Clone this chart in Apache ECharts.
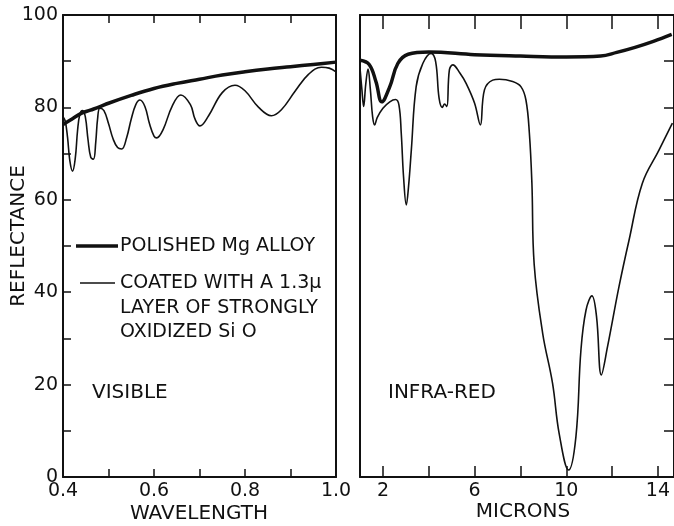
<!DOCTYPE html>
<html>
<head>
<meta charset="utf-8">
<script src="https://cdn.jsdelivr.net/npm/echarts@6/dist/echarts.min.js"></script>
<style>
  html, body { margin: 0; padding: 0; background: #fff; }
  #chart { width: 674px; height: 526px; }
</style>
</head>
<body>
<div id="chart"></div>
<script>
// visible range: wavelength (microns) vs reflectance (%)
const visPolished = [
    [0.40, 76.3], [0.42, 77.5], [0.44, 78.7], [0.46, 79.4], [0.48, 80.1], [0.50, 80.9],
    [0.55, 82.6], [0.60, 84.1], [0.65, 85.2], [0.70, 86.1], [0.75, 87.0], [0.80, 87.7],
    [0.85, 88.3], [0.90, 88.8], [0.95, 89.3], [1.00, 89.8],
];
const visCoated = [
    [0.400, 78.0], [0.405, 77.0], [0.410, 73.5], [0.415, 68.5], [0.421, 66.2], [0.427, 69.0],
    [0.432, 75.0], [0.437, 78.5], [0.443, 79.3], [0.449, 78.0], [0.455, 73.0], [0.461, 69.2],
    [0.467, 68.8], [0.472, 72.5], [0.476, 77.5], [0.481, 79.8], [0.490, 79.3], [0.500, 76.5],
    [0.510, 73.2], [0.520, 71.3], [0.529, 71.0], [0.540, 73.5], [0.550, 77.5], [0.560, 80.6],
    [0.569, 81.6], [0.580, 80.2], [0.590, 76.5], [0.600, 73.8], [0.606, 73.4], [0.620, 75.2],
    [0.640, 80.3], [0.659, 82.7], [0.680, 80.6], [0.690, 77.5], [0.701, 76.0], [0.720, 78.2],
    [0.750, 83.2], [0.778, 84.8], [0.800, 83.6], [0.830, 80.0], [0.858, 78.2], [0.880, 79.5],
    [0.910, 83.5], [0.940, 87.2], [0.968, 88.7], [0.985, 88.5], [1.000, 87.7],
];

// infra-red range
const irPolished = [
    [1.0, 90.2], [1.4, 89.3], [1.7, 85.5], [1.95, 81.2], [2.3, 84.5], [2.65, 89.5],
    [3.1, 91.5], [4.0, 92.0], [6.0, 91.4], [8.0, 91.1], [10.0, 90.9], [11.5, 91.1],
    [12.2, 91.9], [13.0, 93.0], [13.8, 94.3], [14.6, 95.8],
];
const irCoated = [
    [1.0, 88.5], [1.08, 84.0], [1.16, 80.2], [1.25, 85.0], [1.35, 88.3], [1.45, 84.0],
    [1.55, 78.0], [1.64, 76.2], [1.75, 77.8], [2.0, 79.8], [2.3, 81.2], [2.55, 81.7],
    [2.7, 80.5], [2.8, 74.4], [2.9, 65.0], [3.02, 58.9], [3.12, 63.0], [3.24, 70.8],
    [3.45, 84.5], [3.74, 89.5], [4.1, 91.7], [4.3, 89.9], [4.45, 82.0], [4.59, 80.0],
    [4.69, 80.7], [4.79, 80.2], [4.9, 88.1], [5.05, 89.2], [5.35, 87.5], [5.63, 85.2],
    [6.0, 80.9], [6.25, 76.2], [6.43, 83.8], [6.79, 85.9], [7.08, 86.1], [7.66, 85.6],
    [8.02, 84.5], [8.24, 81.6], [8.39, 74.4], [8.5, 63.6], [8.6, 46.0], [8.97, 31.1],
    [9.4, 20.3], [9.69, 9.4], [10.1, 1.5], [10.42, 8.7], [10.64, 27.5], [10.86, 36.1],
    [11.12, 39.2], [11.32, 34.7], [11.53, 22.1], [11.8, 28.2], [12.3, 41.2], [12.74, 51.3],
    [13.32, 63.6], [14.05, 70.8], [14.63, 76.6],
];

// ticks and labels
const visLabels = [0.4, 0.6, 0.8, 1.0];
const visTicks = [0.5, 0.6, 0.7, 0.8, 0.9];
const irLabels = [2, 6, 10, 14];
const irTicks = [2, 4, 6, 8, 10, 12, 14];
const yLabels = [0, 20, 40, 60, 80, 100];
const yTicks = [10, 20, 30, 40, 50, 60, 70, 80, 90];

const INK = '#111';
const FONT = 'DejaVu Sans';

const chart = echarts.init(document.getElementById('chart'));

function frameAxis(extra) {
    return Object.assign({
        axisLine: { show: true, onZero: false, lineStyle: { color: INK, width: 2 } },
        axisTick: { show: false },
        axisLabel: { show: false },
        splitLine: { show: false },
    }, extra);
}

function thick(data, xi) {
    return {
        type: 'line', xAxisIndex: xi, yAxisIndex: xi * 2, data: data,
        showSymbol: false, smooth: 0.4, z: 3,
        lineStyle: { color: INK, width: 3.5 },
    };
}
function thin(data, xi) {
    return {
        type: 'line', xAxisIndex: xi, yAxisIndex: xi * 2, data: data,
        showSymbol: false, smooth: 0.4, z: 2,
        lineStyle: { color: INK, width: 1.6 },
    };
}

const labelStyle = { color: INK, fontFamily: FONT, fontSize: 19 };

const option = {
    animation: false,
    backgroundColor: '#fff',
    grid: [
        { left: 63, top: 15, width: 273, height: 462 },
        { left: 360, top: 15, width: 315, height: 462 },
    ],
    xAxis: [
        // 0: visible bottom
        frameAxis({
            type: 'value', gridIndex: 0, min: 0.4, max: 1.0, position: 'bottom',
            axisTick: { show: true, inside: true, length: 8, customValues: visTicks, lineStyle: { color: INK, width: 1.5 } },
            axisLabel: Object.assign({ show: true, margin: 5, customValues: visLabels, formatter: (v) => v.toFixed(1) }, labelStyle),
        }),
        // 1: infra-red bottom
        frameAxis({
            type: 'value', gridIndex: 1, min: 1, max: 14.7, position: 'bottom',
            axisTick: { show: true, inside: true, length: 11, customValues: irTicks, lineStyle: { color: INK, width: 1.5 } },
            axisLabel: Object.assign({ show: true, margin: 5, customValues: irLabels, formatter: (v) => String(v) }, labelStyle),
        }),
        // 2: visible top
        frameAxis({
            type: 'value', gridIndex: 0, min: 0.4, max: 1.0, position: 'top',
            axisTick: { show: true, inside: true, length: 8, customValues: visTicks, lineStyle: { color: INK, width: 1.5 } },
        }),
        // 3: infra-red top
        frameAxis({
            type: 'value', gridIndex: 1, min: 1, max: 14.7, position: 'top',
            axisTick: { show: true, inside: true, length: 14, customValues: irTicks, lineStyle: { color: INK, width: 1.5 } },
        }),
    ],
    yAxis: [
        // 0: visible left
        frameAxis({
            type: 'value', gridIndex: 0, min: 0, max: 100, position: 'left',
            axisTick: { show: true, inside: true, length: 8, customValues: yTicks, lineStyle: { color: INK, width: 1.5 } },
            axisLabel: Object.assign({ show: true, margin: 5, customValues: yLabels }, labelStyle),
        }),
        // 1: visible right
        frameAxis({ type: 'value', gridIndex: 0, min: 0, max: 100, position: 'right' }),
        // 2: infra-red left
        frameAxis({ type: 'value', gridIndex: 1, min: 0, max: 100, position: 'left' }),
        // 3: infra-red right (edge is cut off in the original)
        frameAxis({
            type: 'value', gridIndex: 1, min: 0, max: 100, position: 'right',
            axisTick: { show: true, inside: true, length: 10, customValues: yTicks, lineStyle: { color: INK, width: 1.5 } },
        }),
    ],
    series: [
        thin(visCoated, 0),
        thick(visPolished, 0),
        thin(irCoated, 1),
        thick(irPolished, 1),
    ],
    graphic: [
        { type: 'text', x: 19, y: 236, rotation: Math.PI / 2,
          style: { text: 'REFLECTANCE', fill: INK, font: '20px "DejaVu Sans"', align: 'center', verticalAlign: 'middle' } },
        { type: 'text', x: 199, y: 514,
          style: { text: 'WAVELENGTH', fill: INK, font: '20px "DejaVu Sans"', align: 'center', verticalAlign: 'middle' } },
        { type: 'text', x: 523, y: 512,
          style: { text: 'MICRONS', fill: INK, font: '20px "DejaVu Sans"', align: 'center', verticalAlign: 'middle' } },
        // legend
        { type: 'line', shape: { x1: 76, y1: 246, x2: 118, y2: 246 }, style: { stroke: INK, lineWidth: 3.5 } },
        { type: 'text', x: 120, y: 246,
          style: { text: 'POLISHED Mg ALLOY', fill: INK, font: '19px "DejaVu Sans"', align: 'left', verticalAlign: 'middle' } },
        { type: 'line', shape: { x1: 80, y1: 283, x2: 115, y2: 283 }, style: { stroke: INK, lineWidth: 1.6 } },
        { type: 'text', x: 120, y: 283,
          style: { text: 'COATED WITH A 1.3μ', fill: INK, font: '19px "DejaVu Sans"', align: 'left', verticalAlign: 'middle' } },
        { type: 'text', x: 120, y: 308,
          style: { text: 'LAYER OF STRONGLY', fill: INK, font: '19px "DejaVu Sans"', align: 'left', verticalAlign: 'middle' } },
        { type: 'text', x: 120, y: 332,
          style: { text: 'OXIDIZED Si O', fill: INK, font: '19px "DejaVu Sans"', align: 'left', verticalAlign: 'middle' } },
        // panel captions
        { type: 'text', x: 92, y: 393,
          style: { text: 'VISIBLE', fill: INK, font: '20px "DejaVu Sans"', align: 'left', verticalAlign: 'middle' } },
        { type: 'text', x: 388, y: 393,
          style: { text: 'INFRA-RED', fill: INK, font: '20px "DejaVu Sans"', align: 'left', verticalAlign: 'middle' } },
    ],
};

chart.setOption(option);
</script>
</body>
</html>
